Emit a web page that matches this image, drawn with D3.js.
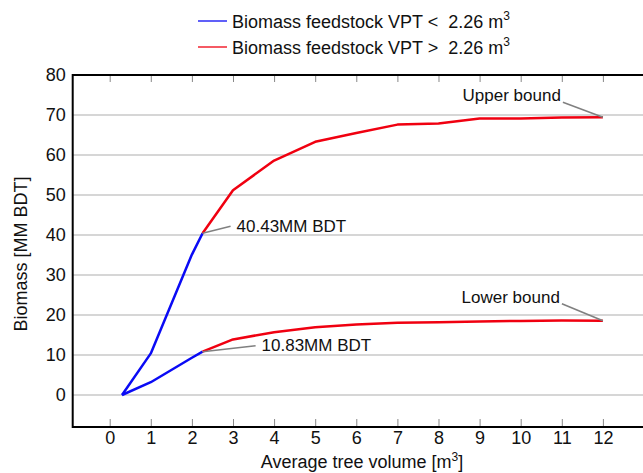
<!DOCTYPE html>
<html>
<head>
<meta charset="utf-8">
<script src="https://cdn.jsdelivr.net/npm/d3@7"></script>
<style>
  html, body { margin: 0; padding: 0; background: #fff; }
  svg { display: block; }
  text { font-family: "Liberation Sans", Arial, Helvetica, sans-serif; fill: #111; }
</style>
</head>
<body>
<svg id="chart" width="643" height="473"></svg>
<script>
// ---------- data ----------
const xValues   = [0.3, 1, 2, 2.26, 3, 4, 5, 6, 7, 8, 9, 10, 11, 12];
const upperVals = [0, 10.4, 35.1, 40.43, 51.2, 58.6, 63.3, 65.5, 67.6, 67.9, 69.1, 69.1, 69.4, 69.45];
const lowerVals = [0, 3.2, 9.3, 10.83, 13.9, 15.7, 16.95, 17.6, 18.05, 18.2, 18.4, 18.5, 18.6, 18.55];
const threshold = 2.26;
const xTicks = [0, 1, 2, 3, 4, 5, 6, 7, 8, 9, 10, 11, 12];
const yTicks = [0, 10, 20, 30, 40, 50, 60, 70, 80];
const legendLabels = ["Biomass feedstock VPT <  2.26 m", "Biomass feedstock VPT >  2.26 m"];
const seriesColors = ["#0a0af5", "#f00010"];

(function () {
// ---------- layout ----------
const svg = d3.select("#chart");
const mLeft = 72.7, mTop = 75, mBottom = 427, mRight = 644;
const x = d3.scaleLinear().domain([-0.9, 13]).range([mLeft, mRight]);
const y = d3.scaleLinear().domain([-8, 80]).range([mBottom, mTop]);

// gridlines
svg.append("g").selectAll("line").data(yTicks).join("line")
  .attr("x1", mLeft).attr("x2", mRight)
  .attr("y1", d => y(d)).attr("y2", d => y(d))
  .attr("stroke", "#c8c8c8").attr("stroke-width", 1.5);

// bottom axis
const gx = svg.append("g").attr("transform", `translate(0,${mBottom})`)
  .call(d3.axisBottom(x).tickValues(xTicks).tickSize(-8).tickPadding(3).tickFormat(d3.format("d")));
gx.select(".domain").remove();
gx.selectAll(".tick line").attr("stroke", "#888").attr("stroke-width", 1);
gx.selectAll(".tick text").attr("font-size", 18).attr("dy", "0.8em")
  .style("font-family", '"Liberation Sans", Arial, sans-serif').attr("fill", "#111");

// top ticks
const gt = svg.append("g").attr("transform", `translate(0,${mTop})`)
  .call(d3.axisTop(x).tickValues(xTicks).tickSize(-7).tickFormat(""));
gt.select(".domain").remove();
gt.selectAll(".tick line").attr("stroke", "#888").attr("stroke-width", 1);

// left axis labels
const gy = svg.append("g").attr("transform", `translate(${mLeft},0)`)
  .call(d3.axisLeft(y).tickValues(yTicks).tickSize(0).tickPadding(7));
gy.select(".domain").remove();
gy.selectAll(".tick text").attr("font-size", 18)
  .style("font-family", '"Liberation Sans", Arial, sans-serif').attr("fill", "#111");

// frame (left, top, bottom)
svg.append("path")
  .attr("d", `M${mRight},${mTop}H${mLeft}V${mBottom}H${mRight}`)
  .attr("fill", "none").attr("stroke", "#000").attr("stroke-width", 2);

// ---------- series ----------
const line = d3.line().x(d => x(d[0])).y(d => y(d[1]));
function split(vals) {
  const pts = xValues.map((xv, i) => [xv, vals[i]]);
  return [pts.filter(p => p[0] <= threshold), pts.filter(p => p[0] >= threshold)];
}
[upperVals, lowerVals].forEach(vals => {
  const [a, b] = split(vals);
  svg.append("path").attr("d", line(a)).attr("fill", "none")
    .attr("stroke", seriesColors[0]).attr("stroke-width", 2.5).attr("stroke-linejoin", "round");
  svg.append("path").attr("d", line(b)).attr("fill", "none")
    .attr("stroke", seriesColors[1]).attr("stroke-width", 2.5).attr("stroke-linejoin", "round");
});

// ---------- annotations ----------
const iT = xValues.indexOf(threshold);
const annots = [
  { px: threshold, py: upperVals[iT], text: d3.format(".2f")(upperVals[iT]) + "MM BDT", dx: 28, dy: -7, anchor: "start" },
  { px: threshold, py: lowerVals[iT], text: d3.format(".2f")(lowerVals[iT]) + "MM BDT", dx: 53, dy: -6, anchor: "start" },
  { px: 12, py: upperVals[upperVals.length - 1], text: "Upper bound", dx: -40, dy: -15, anchor: "end" },
  { px: 12, py: lowerVals[lowerVals.length - 1], text: "Lower bound", dx: -41, dy: -17, anchor: "end" }
];
annots.forEach(a => {
  const X = x(a.px), Y = y(a.py);
  svg.append("line").attr("x1", X).attr("y1", Y).attr("x2", X + a.dx).attr("y2", Y + a.dy)
    .attr("stroke", "#808080").attr("stroke-width", 1.6);
  svg.append("text").attr("x", X + a.dx + (a.anchor === "start" ? 6 : -2))
    .attr("y", Y + a.dy - (a.anchor === "start" ? -4 : 1))
    .attr("text-anchor", a.anchor).attr("font-size", 17)
    .attr("dy", a.anchor === "start" ? "0.1em" : "0em")
    .text(a.text);
});

// ---------- axis titles ----------
const xt = svg.append("text").attr("x", 362).attr("y", 468).attr("text-anchor", "middle").attr("font-size", 18);
xt.append("tspan").text("Average tree volume [m");
xt.append("tspan").text("3").attr("font-size", 12).attr("dy", -7);
xt.append("tspan").text("]").attr("dy", 7);

svg.append("text").attr("transform", "translate(27,254) rotate(-90)")
  .attr("text-anchor", "middle").attr("font-size", 18).text("Biomass [MM BDT]");

// ---------- legend ----------
legendLabels.forEach((lab, i) => {
  const ly = 21 + i * 26;
  svg.append("line").attr("x1", 198).attr("x2", 227).attr("y1", ly).attr("y2", ly)
    .attr("stroke", seriesColors[i]).attr("stroke-width", 1.3);
  const t = svg.append("text").attr("x", 232).attr("y", ly + 7).attr("font-size", 18)
    .style("white-space", "pre");
  t.append("tspan").text(lab);
  t.append("tspan").text("3").attr("font-size", 12).attr("dy", -8);
});
})();
</script>
</body>
</html>
